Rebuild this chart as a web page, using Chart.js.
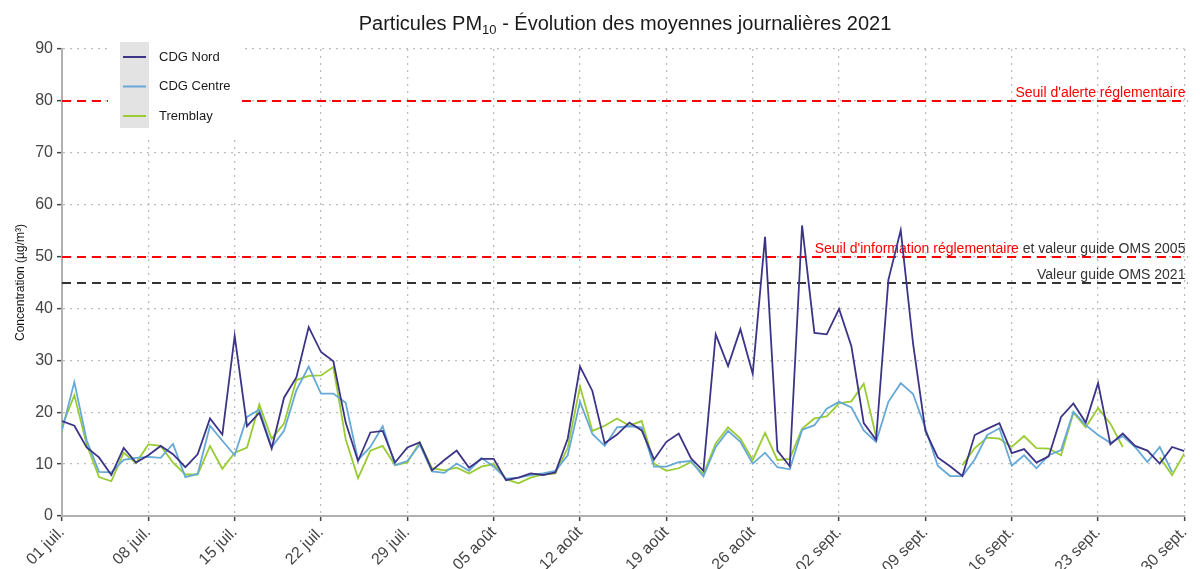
<!DOCTYPE html>
<html>
<head>
<meta charset="utf-8">
<script src="https://cdn.jsdelivr.net/npm/chart.js@4.4.1/dist/chart.umd.min.js"></script>
<style>
  body { margin: 0; background: #fff; font-family: "Liberation Sans", Arial, sans-serif; }
  #wrap { position: relative; width: 1200px; height: 569px; }
  #title { position: absolute; left: 0; top: 12px; width: 1250px; text-align: center;
           font-size: 20px; color: #1a1a1a; }
  #title sub { font-size: 13px; vertical-align: -4px; }
</style>
</head>
<body>
<div id="wrap">
  <canvas id="chart"></canvas>
  <div id="title">Particules PM<sub>10</sub> - Évolution des moyennes journalières 2021</div>
</div>
<script>
// daily means, 01 juil. -> 30 sept. 2021 (µg/m3)
const nord = [18.3, 17.4, 13.2, 11.3, 7.9, 13.1, 10.3, 11.7, 13.5, 11.9,
  9.4, 11.9, 18.8, 15.7, 34.7, 17.3, 19.9, 13.0, 22.8, 26.7,
  36.4, 31.6, 29.8, 18.0, 10.6, 16.1, 16.4, 10.3, 13.2, 14.2,
  8.8, 10.8, 12.6, 9.3, 11.0, 11.0, 6.9, 7.4, 8.2, 7.9,
  8.4, 14.9, 28.8, 24.1, 14.0, 15.7, 18.0, 16.5, 10.9, 14.3,
  15.9, 11.1, 8.7, 35.0, 28.9, 36.0, 27.4, 53.8, 12.6, 9.6,
  56.0, 35.3, 35.0, 39.9, 32.7, 17.9, 14.7, 45.5, 55.1, 33.2,
  16.4, 11.3, 9.6, 7.7, 15.6, 16.8, 17.9, 12.1, 12.9, 10.3,
  11.5, 19.1, 21.7, 18.0, 25.6, 13.8, 15.9, 13.5, 12.6, 10.1,
  13.3, 12.5];
const centre = [16.5, 25.8, 14.6, 8.5, 8.4, 10.8, 11.2, 11.4, 11.2, 13.9,
  7.5, 8.1, 17.4, 14.5, 11.7, 19.1, 20.5, 13.3, 16.4, 24.2,
  28.8, 23.6, 23.6, 21.8, 10.8, 13.3, 17.3, 9.8, 10.6, 13.8,
  8.6, 8.3, 10.1, 8.7, 11.2, 9.5, 7.2, 7.4, 7.9, 8.2,
  8.7, 11.7, 22.0, 15.8, 13.5, 17.1, 17.3, 17.1, 9.5, 9.5,
  10.4, 10.6, 7.6, 13.3, 16.4, 14.3, 10.1, 12.2, 9.4, 9.0,
  16.6, 17.5, 20.7, 22.0, 20.9, 16.5, 14.3, 22.0, 25.6, 23.5,
  16.9, 9.7, 7.7, 7.7, 10.9, 15.6, 16.9, 9.7, 11.7, 9.2,
  11.7, 12.7, 20.1, 17.5, 15.6, 14.1, 15.4, 13.3, 10.4, 13.3,
  8.5, null];
const tremblay = [17.2, 23.3, 13.8, 7.5, 6.7, 12.2, 10.2, 13.8, 13.5, 10.3,
  8.0, 8.0, 13.5, 9.1, 12.2, 13.2, 21.5, 14.9, 17.8, 26.2,
  27.0, 27.1, 28.7, 14.8, 7.3, 12.6, 13.5, 9.8, 10.3, 14.2,
  9.2, 8.8, 9.3, 8.2, 9.5, 10.0, 7.1, 6.3, 7.4, 8.0,
  8.2, 13.1, 25.0, 16.4, 17.4, 18.8, 17.4, 18.3, 10.1, 8.7,
  9.2, 10.4, 8.1, 14.0, 17.1, 14.9, 10.8, 16.0, 10.8, 11.0,
  16.8, 18.8, 19.2, 21.7, 22.1, 25.5, 15.3, null, null, null,
  null, null, null, 9.8, 13.1, 15.1, 14.9, 13.3, 15.4, 13.1,
  13.0, 11.7, 19.9, 17.1, 20.8, 17.8, 13.3, null, null, 11.3,
  7.9, 12.1];
const tickLabels = ['01 juil.', '08 juil.', '15 juil.', '22 juil.', '29 juil.', '05 août', '12 août',
  '19 août', '26 août', '02 sept.', '09 sept.', '16 sept.', '23 sept.', '30 sept.'];
const seriesNames = ['CDG Nord', 'CDG Centre', 'Tremblay'];
const thresholds = [80, 50, 45];

const days = nord.map((_, i) => i);
const colors = ['#3b3487', '#67a9d6', '#99cc33'];
const thresholdColors = ['#ff0000', '#ff0000', '#333333'];
const FONT = '"Liberation Sans", Arial, sans-serif';

// dashed reference lines + their captions
const refLines = {
  id: 'refLines',
  beforeDatasetsDraw(chart) {
    const { ctx, chartArea: a, scales: { y } } = chart;
    ctx.save();
    ctx.lineWidth = 2;
    ctx.setLineDash([9, 6]);
    thresholds.forEach((v, i) => {
      const py = Math.round(y.getPixelForValue(v));
      ctx.strokeStyle = thresholdColors[i];
      ctx.beginPath();
      ctx.moveTo(a.left, py);
      ctx.lineTo(a.right + 3, py);
      ctx.stroke();
    });
    ctx.setLineDash([]);
    ctx.font = '14px ' + FONT;
    ctx.textAlign = 'right';
    ctx.textBaseline = 'alphabetic';
    const r = a.right + 1;

    ctx.fillStyle = '#ff0000';
    ctx.fillText("Seuil d'alerte réglementaire", r, y.getPixelForValue(thresholds[0]) - 4);

    const y2 = y.getPixelForValue(thresholds[1]) - 4;
    const tail = ' et valeur guide OMS 2005';
    ctx.fillStyle = '#333333';
    ctx.fillText(tail, r, y2);
    ctx.fillStyle = '#ff0000';
    ctx.fillText("Seuil d'information réglementaire", r - ctx.measureText(tail).width, y2);

    ctx.fillStyle = '#333333';
    ctx.fillText('Valeur guide OMS 2021', r, y.getPixelForValue(thresholds[2]) - 4);
    ctx.restore();
  }
};

// boxed legend in the top-left corner
const boxLegend = {
  id: 'boxLegend',
  afterDatasetsDraw(chart) {
    const { ctx } = chart;
    ctx.save();
    ctx.fillStyle = '#ffffff';
    ctx.fillRect(108, 38, 134, 97);
    ctx.fillStyle = '#e3e3e3';
    ctx.fillRect(120, 42, 29, 86);
    ctx.font = '13px ' + FONT;
    ctx.textBaseline = 'middle';
    ctx.textAlign = 'left';
    chart.data.datasets.forEach((ds, i) => {
      const ly = 57 + i * 29.5;
      ctx.strokeStyle = ds.borderColor;
      ctx.lineWidth = 2;
      ctx.beginPath();
      ctx.moveTo(123, ly);
      ctx.lineTo(146, ly);
      ctx.stroke();
      ctx.fillStyle = '#1a1a1a';
      ctx.fillText(ds.label, 159, ly);
    });
    ctx.restore();
  }
};

new Chart(document.getElementById('chart'), {
  type: 'line',
  data: {
    labels: days,
    datasets: [nord, centre, tremblay].map((d, i) => ({
      label: seriesNames[i],
      data: d,
      borderColor: colors[i],
      backgroundColor: colors[i],
      borderWidth: 1.8,
      pointRadius: 0,
      tension: 0,
      spanGaps: false
    }))
  },
  options: {
    responsive: true,
    maintainAspectRatio: false,
    animation: false,
    layout: { padding: { top: 49, right: 13, left: 0, bottom: 0 } },
    plugins: { legend: { display: false }, tooltip: { enabled: false } },
    scales: {
      x: {
        type: 'linear',
        min: 0,
        max: 91,
        afterFit(s) { s.height = 53; },
        ticks: {
          stepSize: 7,
          autoSkip: false,
          minRotation: 45,
          maxRotation: 45,
          padding: 2,
          color: '#444',
          font: { size: 16, family: FONT },
          callback: (v) => tickLabels[Math.round(v / 7)]
        },
        grid: { color: '#bdbdbd', lineWidth: 1.3, tickLength: 5, tickColor: '#444', tickWidth: 1.5 },
        border: { display: true, color: '#b0b0b0', width: 2, dash: [2, 5] }
      },
      y: {
        min: 0,
        max: 90,
        afterFit(s) { s.width = 62; },
        ticks: {
          stepSize: 10,
          padding: 4,
          color: '#444',
          font: { size: 16, family: FONT }
        },
        title: {
          display: true,
          text: 'Concentration (µg/m³)',
          color: '#111',
          font: { size: 12, family: FONT },
          padding: { top: 13, bottom: 0 }
        },
        grid: { color: '#bdbdbd', lineWidth: 1.3, tickLength: 5, tickColor: '#444', tickWidth: 1.5 },
        border: { display: true, color: '#b0b0b0', width: 2, dash: [2, 5] }
      }
    }
  },
  plugins: [refLines, boxLegend]
});
</script>
</body>
</html>
